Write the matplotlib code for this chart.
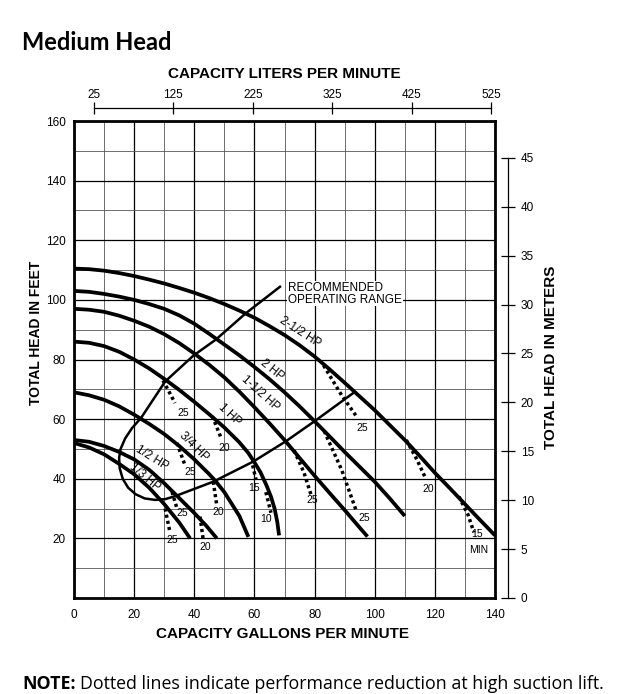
import numpy as np
import matplotlib
matplotlib.use("Agg")
from matplotlib import pyplot as plt

# pump curves, gpm vs feet of head
hp_names = ["2-1/2 HP", "2 HP", "1-1/2 HP", "1 HP", "3/4 HP", "1/2 HP", "1/3 HP"]
gpm_25 = [0, 5, 10, 15, 20, 25, 30, 35, 40, 45, 50, 55, 60, 65, 70, 75, 80,
          85, 90, 95, 100, 105, 110, 115, 120, 125, 130, 135, 140]
ft_25 = [110.5, 110.3, 109.8, 109.0, 108, 106.8, 105.5, 104, 102.4, 100.6, 98.6,
         96.4, 94, 91.2, 88.2, 84.8, 81, 76.7, 72.2, 67.6, 63, 58, 53, 47.6, 42,
         36.8, 31.5, 26.2, 21]
gpm_20 = [0, 5, 10, 15, 20, 25, 30, 35, 40, 45, 50, 55, 60, 65, 70, 75, 80,
          85, 90, 95, 100, 105, 110]
ft_20 = [103, 102.7, 102, 101.1, 100, 98.6, 97, 94.8, 92, 88.6, 85, 81.4, 77.5,
         73.4, 69, 64.3, 59.3, 54.2, 49, 44, 39, 33.4, 27.5]
gpm_15 = [0, 5, 10, 15, 20, 25, 30, 35, 40, 45, 50, 55, 60, 65, 70, 75, 80,
          85, 90, 95, 97.6]
ft_15 = [97, 96.7, 96, 94.7, 93, 91, 88.5, 85.5, 82, 78.2, 74, 69.2, 64, 58.6,
         53, 47, 41, 35.2, 29.5, 23.6, 20.6]
gpm_10 = [0, 5, 10, 15, 20, 25, 30, 35, 40, 45, 50, 55, 58, 60, 62, 64, 65.5,
          66.7, 67.6, 68.2]
ft_10 = [86, 85.6, 84.5, 82.6, 80, 77, 73.5, 69.8, 65.8, 61.6, 57.2, 52.2, 48.6,
         45.5, 42.2, 37.8, 34, 30, 25.5, 21]
gpm_075 = [0, 5, 10, 15, 20, 25, 30, 35, 40, 45, 47, 50, 55, 58]
ft_075 = [69, 68, 66.5, 64.3, 61.5, 58.4, 55, 51, 46.5, 41.5, 39.3, 35.5, 27.5, 20.5]
gpm_05 = [0, 5, 10, 15, 20, 25, 30, 35, 40, 44, 47.5]
ft_05 = [53, 52.4, 51, 49, 46.5, 43, 38.5, 33.5, 28.5, 24.2, 20]
gpm_033 = [0, 5, 10, 15, 20, 25, 30, 35, 38.6]
ft_033 = [52, 50.5, 48.2, 45, 41.5, 37, 31.5, 25.3, 20]

hp_gpm = [gpm_25, gpm_20, gpm_15, gpm_10, gpm_075, gpm_05, gpm_033]
hp_ft = [ft_25, ft_20, ft_15, ft_10, ft_075, ft_05, ft_033]

# HP label position (gpm, ft) and slope angle on screen
hp_label_x = [75.2, 65.7, 61.9, 51.9, 39.7, 25.9, 23.6]
hp_label_y = [89.2, 76.5, 68.7, 61.4, 50.7, 47.0, 40.6]
hp_label_rot = [-33, -39, -42, -43, -45, -32, -40]

# suction lift (dotted) branches
lift_gpm = [[83, 89, 94.3], [110.5, 114, 117], [128, 131, 133],
            [83.2, 89, 93.7], [73.2, 76.5, 78.8],
            [29.6, 33.6], [46, 48.9], [59.4, 60.5], [63.8, 65.5],
            [34.2, 36.9], [46.3, 47.5], [32.6, 34.2], [41.9, 42.9],
            [30.3, 31.9]]
lift_ft = [[78, 68, 60.4], [53, 46.5, 40], [34, 28, 22],
           [56, 43, 29.7], [49.5, 42, 34.7],
           [73, 65.4], [61, 53.7], [44.5, 39.8], [35.5, 28.6],
           [52, 44.6], [39, 31], [35.6, 30.2], [27.3, 20.1],
           [30, 22.1]]
lift_text = ["25", "20", "15", "25", "25", "25", "20", "15", "10",
             "25", "20", "25", "20", "25"]
lift_text_x = [95.9, 117.9, 134, 96.5, 79.3, 36.2, 50, 60, 63.8,
               38.6, 48.1, 35.9, 43.6, 32.6]
lift_text_y = [57, 36.6, 21.3, 27, 33, 62, 50.4, 37, 26.6,
               42.3, 29, 28.5, 17, 19.5]

# recommended operating range outline
range_gpm = [68.5, 57, 47.2, 39.7, 30.3, 22.3, 19.3, 17, 15.5, 15, 15.2, 16.2,
             18, 20.5, 23.5, 27, 30.5, 34, 46.3, 59.5, 70.5, 80, 93.2]
range_ft = [104.4, 95.4, 86.7, 81.3, 72.6, 60.4, 57, 53.5, 50, 47, 43.5, 40,
            37, 34.8, 33.4, 32.9, 33.2, 34.3, 39, 45.7, 52.6, 59.3, 69]

gpm_ticks = [0, 20, 40, 60, 80, 100, 120, 140]
ft_ticks = [20, 40, 60, 80, 100, 120, 140, 160]
lpm_ticks = [25, 125, 225, 325, 425, 525]
m_ticks = [0, 5, 10, 15, 20, 25, 30, 35, 40, 45]

LPM_PER_GPM = 3.785
FT_PER_M = 3.281

plt.rcParams["font.family"] = ["Liberation Sans", "DejaVu Sans"]

fig = plt.figure(figsize=(6.23, 6.94), dpi=100)
ax = fig.add_axes([74 / 623, 1 - 598 / 694, 421 / 623, 477 / 694])
ax.set_xlim(0, 140)
ax.set_ylim(0, 160)

ax.set_xticks(gpm_ticks)
ax.set_xticks(np.arange(0, 141, 10), minor=True)
ax.set_yticks(ft_ticks)
ax.set_yticks(np.arange(0, 161, 10), minor=True)
ax.grid(which="major", color="black", lw=0.9)
ax.grid(which="minor", color="#555555", lw=0.6)
ax.tick_params(which="both", length=0, labelsize=8.5)
ax.tick_params(axis="x", pad=8)
ax.tick_params(axis="y", pad=6)
for sp in ax.spines.values():
    sp.set_linewidth(2)

ax.set_xlabel("CAPACITY GALLONS PER MINUTE", fontweight="bold", fontsize=11)
ax.xaxis.set_label_coords(0.496, -0.061)
ax.set_ylabel("TOTAL HEAD IN FEET", fontweight="bold", fontsize=10)
ax.yaxis.set_label_coords(-0.074, 0.556)

# pump curves
for xs, ys in zip(hp_gpm, hp_ft):
    ax.plot(xs, ys, color="black", lw=2.7, solid_capstyle="butt",
            solid_joinstyle="round", zorder=4)
for name, lx, ly, rot in zip(hp_names, hp_label_x, hp_label_y, hp_label_rot):
    ax.text(lx, ly, name, rotation=rot, rotation_mode="anchor",
            ha="center", va="center", fontsize=8.5, zorder=5)

# dotted suction-lift lines
for xs, ys in zip(lift_gpm, lift_ft):
    ax.plot(xs, ys, color="black", lw=2.5, linestyle=(0, (0.9, 0.9)), zorder=3)
for t, lx, ly in zip(lift_text, lift_text_x, lift_text_y):
    ax.text(lx, ly, t, ha="center", va="center", fontsize=7.5, zorder=5)
ax.text(134.6, 16, "MIN", ha="center", va="center", fontsize=7.5, zorder=5)

# recommended operating range
ax.plot(range_gpm, range_ft, color="black", lw=1.8, zorder=3)
ax.text(71.2, 102, "RECOMMENDED\nOPERATING RANGE", ha="left", va="center",
        fontsize=8.5, linespacing=0.95, zorder=5,
        bbox=dict(facecolor="white", edgecolor="none", pad=0.5))

# liters per minute scale on top
top = ax.twiny()
top.set_xlim(0, 140 * LPM_PER_GPM)
top.set_xticks(lpm_ticks)
top.spines["top"].set_position(("outward", 9.5))
top.spines["top"].set_bounds(lpm_ticks[0], lpm_ticks[-1])
top.spines["top"].set_linewidth(0.9)
for k in ["left", "right", "bottom"]:
    top.spines[k].set_visible(False)
top.tick_params(axis="x", direction="inout", length=8, width=0.9,
                labelsize=8.5, pad=1)
top.set_xlabel("CAPACITY LITERS PER MINUTE", fontweight="bold", fontsize=11)
top.xaxis.set_label_coords(0.5, 1.090)

# meters scale on the right
right = ax.twinx()
right.set_ylim(0, 160 / FT_PER_M)
right.set_yticks(m_ticks)
right.spines["right"].set_position(("outward", 9.5))
right.spines["right"].set_bounds(m_ticks[0], m_ticks[-1])
right.spines["right"].set_linewidth(0.9)
for k in ["left", "top", "bottom"]:
    right.spines[k].set_visible(False)
right.tick_params(axis="y", direction="inout", length=10, width=0.9,
                  labelsize=8.5, pad=4)
right.set_ylabel("TOTAL HEAD IN METERS", fontweight="bold", fontsize=11)
right.yaxis.set_label_coords(1.116, 0.505)

fig.text(22 / 623, 1 - 43 / 694, "Medium Head", fontsize=17, fontweight="bold",
         family=["Lato", "DejaVu Sans"], va="center", ha="left")

# footnote, sized so the whole sentence stays on the canvas
note = fig.text(22 / 623, 1 - 689 / 694, "NOTE:", fontsize=12.8, fontweight="bold",
                family=["Open Sans", "DejaVu Sans"], va="baseline", ha="left")
r = fig.canvas.get_renderer()
bb = note.get_window_extent(renderer=r)
fig.text((bb.x1 + 4) / 623, 1 - 689 / 694,
         "Dotted lines indicate performance reduction at high suction lift.",
         fontsize=12.8, family=["Open Sans", "DejaVu Sans"], va="baseline", ha="left")

fig.savefig("out.png", dpi=100)
